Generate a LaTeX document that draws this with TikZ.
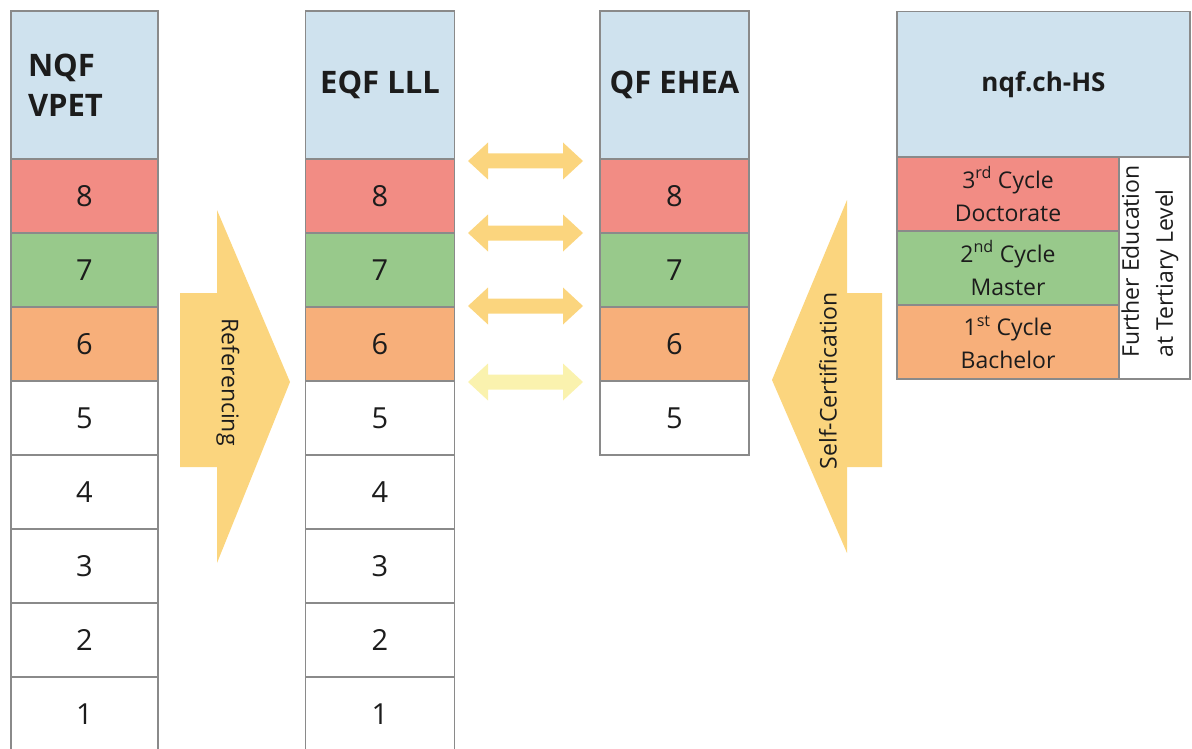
\documentclass[tikz,border=0pt]{standalone}
\usepackage{fontspec}
\setmainfont{Open Sans}
\definecolor{hblue}{HTML}{CFE2EE}
\definecolor{cred}{HTML}{F28C84}
\definecolor{cgreen}{HTML}{98C98B}
\definecolor{corange}{HTML}{F7AF7A}
\definecolor{arrowc}{HTML}{FBD57E}
\definecolor{palec}{HTML}{FAF2AE}
\definecolor{linegray}{HTML}{8A8A8A}
\definecolor{txt}{HTML}{1C1C1C}
\begin{document}
\begin{tikzpicture}[x=1pt,y=-1pt,
  cell/.style={draw=linegray, line width=1.2pt, minimum height=74pt, inner sep=0pt,
    font=\fontsize{29}{34}\selectfont, text=txt},
  colA/.style={minimum width=147pt},
  colB/.style={minimum width=149pt},
  head/.style={draw=linegray, line width=1.2pt, fill=hblue, minimum height=148pt, inner sep=0pt,
    font=\fontsize{31}{40}\selectfont\bfseries, text=txt},
  small/.style={font=\fontsize{23}{33}\selectfont, text=txt, align=center, inner sep=0pt},
  darrow/.pic={\fill[#1] (-57.5,0) -- (-37.5,-18.5) -- (-37.5,-7.5) -- (37.5,-7.5) -- (37.5,-18.5)
      -- (57.5,0) -- (37.5,18.5) -- (37.5,7.5) -- (-37.5,7.5) -- (-37.5,18.5) -- cycle;}
]
\useasboundingbox (0,0) rectangle (1192,749);
\clip (0,0) rectangle (1192,749);

% column headers
\node[head, colA, text width=113pt, align=left] (ah) at (84.5,85) {NQF\\VPET};
\node[head, colB] (bh) at (380,85) {EQF LLL};
\node[head, colB] (ch) at (674.5,85) {QF EHEA};

% columns of levels
\foreach \k/\c in {8/cred,7/cgreen,6/corange,5/white,4/white,3/white,2/white,1/white}{
  \node[cell, colA, fill=\c] (a\k) at (84.5,{159+(8-\k)*74+37}) {\k};
  \node[cell, colB, fill=\c] (b\k) at (380,{159+(8-\k)*74+37}) {\k};
}
\foreach \k/\c in {8/cred,7/cgreen,6/corange,5/white}{
  \node[cell, colB, fill=\c] (c\k) at (674.5,{159+(8-\k)*74+37}) {\k};
}

% nqf.ch-HS block
\node[head, minimum width=293pt, minimum height=147pt, font=\fontsize{26}{30}\selectfont\bfseries] (dh) at (1043.5,85) {nqf.ch-HS};
\node[cell, small, minimum width=222pt, fill=cred] (d3) at (1008,194) {3\textsuperscript{rd} Cycle\\Doctorate};
\node[cell, small, minimum width=222pt, fill=cgreen] (d2) at (1008,268) {2\textsuperscript{nd} Cycle\\Master};
\node[cell, small, minimum width=222pt, fill=corange] (d1) at (1008,342) {1\textsuperscript{st} Cycle\\Bachelor};
\node[draw=linegray, line width=1.2pt, fill=white, minimum width=71pt, minimum height=222pt, inner sep=0pt] (dfe) at (1154.5,268) {};
\node[small, rotate=90, align=left, font=\fontsize{23}{34}\selectfont] (dfet) at (1150,261.5) {Further Education\\at Tertiary Level};

% double arrows between EQF and QF EHEA
\pic at (525.5,161) {darrow=arrowc};
\pic at (525.5,233) {darrow=arrowc};
\pic at (525.5,306) {darrow=arrowc};
\pic at (525.5,382) {darrow=palec};

% Referencing arrow
\fill[arrowc] (180,293) -- (217,293) -- (217,210) -- (290,382) -- (217,563) -- (217,467) -- (180,467) -- cycle;
\node[small, rotate=-90] (ref) at (228,382) {Referencing};

% Self-Certification arrow
\fill[arrowc] (882,293) -- (847,293) -- (847,200) -- (772,380) -- (847,553) -- (847,467) -- (882,467) -- cycle;
\node[small, rotate=90] (selfc) at (828,381) {Self-Certification};
\end{tikzpicture}
\end{document}
